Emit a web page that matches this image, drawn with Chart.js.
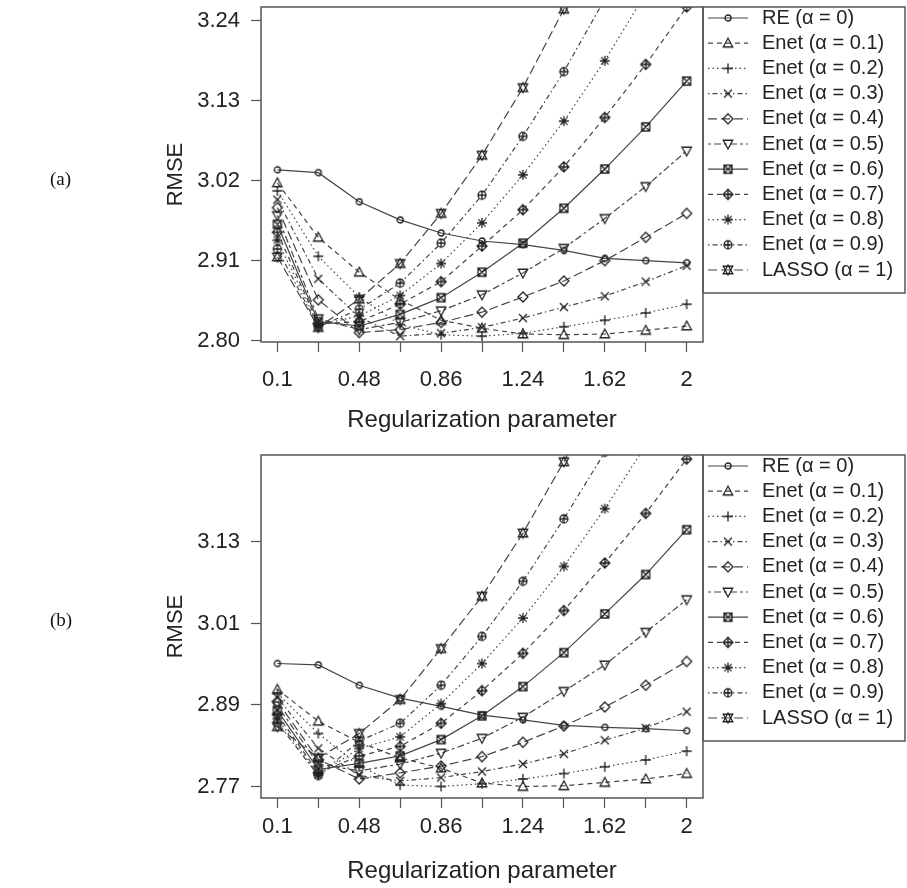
<!DOCTYPE html>
<html>
<head>
<meta charset="utf-8">
<script src="https://cdn.jsdelivr.net/npm/chart.js@4.4.1/dist/chart.umd.min.js"></script>
<style>
  html, body { margin: 0; padding: 0; background: #fff; }
  #wrap { position: relative; width: 907px; height: 888px; overflow: hidden; }
  #wrap canvas { position: absolute; left: 0; }
  .tag { position: absolute; font-family: "Liberation Serif", "DejaVu Serif", serif; font-size: 19px; color: #111; }
</style>
</head>
<body>
<div id="wrap">
  <canvas id="chartA" width="907" height="444" style="top:0px"></canvas>
  <canvas id="chartB" width="907" height="444" style="top:444px"></canvas>
  <div class="tag" style="left:50px; top:168px">(a)</div>
  <div class="tag" style="left:50px; top:609px">(b)</div>
</div>
<script>
// x: regularization parameter
const lambdas = [0.1, 0.29, 0.48, 0.67, 0.86, 1.05, 1.24, 1.43, 1.62, 1.81, 2];
const xTickLabels = ['0.1', '', '0.48', '', '0.86', '', '1.24', '', '1.62', '', '2'];
const seriesNames = ['RE (α = 0)', 'Enet (α = 0.1)', 'Enet (α = 0.2)', 'Enet (α = 0.3)', 'Enet (α = 0.4)',
  'Enet (α = 0.5)', 'Enet (α = 0.6)', 'Enet (α = 0.7)', 'Enet (α = 0.8)', 'Enet (α = 0.9)', 'LASSO (α = 1)'];

const yTicksA = [2.80, 2.91, 3.02, 3.13, 3.24];
const yTicksB = [2.77, 2.89, 3.01, 3.13];

// panel (a) RMSE
const reA    = [3.035, 3.031, 2.991, 2.966, 2.948, 2.937, 2.932, 2.924, 2.913, 2.910, 2.907];
const enet1A = [3.017, 2.942, 2.894, 2.856, 2.828, 2.817, 2.809, 2.808, 2.809, 2.814, 2.820];
const enet2A = [3.006, 2.916, 2.860, 2.822, 2.808, 2.806, 2.810, 2.819, 2.828, 2.838, 2.850];
const enet3A = [2.994, 2.885, 2.832, 2.806, 2.810, 2.818, 2.831, 2.846, 2.861, 2.881, 2.903];
const enet4A = [2.983, 2.856, 2.811, 2.815, 2.825, 2.839, 2.860, 2.882, 2.910, 2.942, 2.975];
const enet5A = [2.972, 2.830, 2.815, 2.825, 2.841, 2.863, 2.893, 2.927, 2.968, 3.012, 3.061];
const enet6A = [2.960, 2.826, 2.820, 2.836, 2.859, 2.894, 2.934, 2.982, 3.036, 3.094, 3.157];
const enet7A = [2.949, 2.823, 2.826, 2.850, 2.881, 2.930, 2.980, 3.039, 3.107, 3.180, 3.259];
const enet8A = [2.938, 2.821, 2.834, 2.862, 2.906, 2.962, 3.028, 3.102, 3.185, 3.278, 3.375];
const enet9A = [2.926, 2.819, 2.843, 2.879, 2.934, 3.000, 3.081, 3.170, 3.270, 3.380, 3.500];
const lassoA = [2.915, 2.818, 2.857, 2.906, 2.975, 3.055, 3.148, 3.256, 3.380, 3.510, 3.650];

// panel (b) RMSE
const reB    = [2.951, 2.949, 2.919, 2.900, 2.888, 2.875, 2.868, 2.860, 2.857, 2.855, 2.852];
const enet1B = [2.913, 2.866, 2.835, 2.812, 2.797, 2.775, 2.770, 2.771, 2.776, 2.781, 2.789];
const enet2B = [2.907, 2.848, 2.800, 2.772, 2.770, 2.774, 2.781, 2.789, 2.799, 2.809, 2.822];
const enet3B = [2.901, 2.826, 2.786, 2.778, 2.783, 2.792, 2.803, 2.818, 2.838, 2.856, 2.880];
const enet4B = [2.895, 2.810, 2.781, 2.790, 2.800, 2.814, 2.835, 2.859, 2.887, 2.919, 2.954];
const enet5B = [2.889, 2.803, 2.793, 2.803, 2.819, 2.841, 2.872, 2.910, 2.949, 2.997, 3.045];
const enet6B = [2.882, 2.795, 2.804, 2.815, 2.839, 2.874, 2.917, 2.967, 3.024, 3.082, 3.148];
const enet7B = [2.876, 2.790, 2.815, 2.829, 2.863, 2.911, 2.966, 3.029, 3.099, 3.172, 3.252];
const enet8B = [2.870, 2.787, 2.826, 2.843, 2.892, 2.951, 3.018, 3.094, 3.179, 3.272, 3.370];
const enet9B = [2.864, 2.786, 2.837, 2.863, 2.919, 2.991, 3.072, 3.164, 3.262, 3.365, 3.475];
const lassoB = [2.858, 2.812, 2.848, 2.898, 2.973, 3.050, 3.143, 3.248, 3.365, 3.490, 3.625];

const seriesA = [reA, enet1A, enet2A, enet3A, enet4A, enet5A, enet6A, enet7A, enet8A, enet9A, lassoA];
const seriesB = [reB, enet1B, enet2B, enet3B, enet4B, enet5B, enet6B, enet7B, enet8B, enet9B, lassoB];

// R style line types (lty 1..6 recycled)
const lineDash = [[], [5, 4], [1.5, 3], [1.5, 3, 5, 3], [9, 4], [3, 3, 7, 3],
                  [], [5, 4], [1.5, 3], [1.5, 3, 5, 3], [9, 4]];
const markerKinds = ['circle', 'tri', 'plus', 'cross', 'diamond', 'tridown', 'sqx', 'dplus', 'aster', 'cplus', 'david'];

const FONT = '"Liberation Sans", Arial, sans-serif';

// small canvases used as point styles (pch 1..11)
const makeMarker = (kind) => {
  const s = 14, m = 7;
  const c = document.createElement('canvas');
  c.width = s; c.height = s;
  const g = c.getContext('2d');
  g.strokeStyle = '#222';
  g.lineWidth = 1.3;
  g.beginPath();
  const tri = (r, down) => {
    const d = down ? -1 : 1;
    g.moveTo(m, m - d * r);
    g.lineTo(m + r * 0.95, m + d * r * 0.75);
    g.lineTo(m - r * 0.95, m + d * r * 0.75);
    g.closePath();
  };
  const plus = (r) => { g.moveTo(m - r, m); g.lineTo(m + r, m); g.moveTo(m, m - r); g.lineTo(m, m + r); };
  const cross = (r) => { g.moveTo(m - r, m - r); g.lineTo(m + r, m + r); g.moveTo(m + r, m - r); g.lineTo(m - r, m + r); };
  const diamond = (r) => { g.moveTo(m, m - r); g.lineTo(m + r, m); g.lineTo(m, m + r); g.lineTo(m - r, m); g.closePath(); };
  switch (kind) {
    case 'circle': g.arc(m, m, 3, 0, Math.PI * 2); break;
    case 'tri': tri(5, false); break;
    case 'plus': plus(5); break;
    case 'cross': cross(4); break;
    case 'diamond': diamond(5); break;
    case 'tridown': tri(5, true); break;
    case 'sqx': g.rect(m - 4, m - 4, 8, 8); cross(4); break;
    case 'dplus': diamond(5); plus(5); break;
    case 'aster': plus(5); cross(3.6); break;
    case 'cplus': g.arc(m, m, 4, 0, Math.PI * 2); g.moveTo(m - 4, m); g.lineTo(m + 4, m); g.moveTo(m, m - 4); g.lineTo(m, m + 4); break;
    case 'david': tri(5, false); tri(5, true); break;
  }
  g.stroke();
  return c;
};
const markers = markerKinds.map(makeMarker);

// frame box + legend box (drawn like R's box() and legend())
const framePlugin = {
  id: 'frame',
  afterDraw(chart) {
    const {ctx, chartArea: a} = chart;
    ctx.save();
    ctx.strokeStyle = '#555';
    ctx.lineWidth = 1.5;
    ctx.strokeRect(a.left, a.top, a.right - a.left, a.bottom - a.top);
    const lx = a.right, ly = a.top;
    ctx.strokeRect(lx, ly, 202, 286);
    chart.data.datasets.forEach((ds, k) => {
      const y = ly + 11 + k * 25.2;
      ctx.strokeStyle = '#444';
      ctx.lineWidth = 1.2;
      ctx.setLineDash(ds.borderDash);
      ctx.beginPath();
      ctx.moveTo(lx + 5, y);
      ctx.lineTo(lx + 45, y);
      ctx.stroke();
      ctx.setLineDash([]);
      ctx.drawImage(ds.pointStyle, lx + 25 - 7, y - 7);
      ctx.fillStyle = '#222';
      ctx.font = '20px ' + FONT;
      ctx.textBaseline = 'middle';
      ctx.textAlign = 'left';
      ctx.fillText(ds.label, lx + 59, y);
    });
    ctx.restore();
  }
};

const makePanel = (id, series, yTicks, yMin, yMax, topPad, xHeight, xLabelPad, xTitlePad) => {
  const datasets = series.map((vals, k) => ({
    label: seriesNames[k],
    data: vals.map((v, i) => ({x: lambdas[i], y: v})),
    borderColor: '#444',
    borderWidth: 1.2,
    borderDash: lineDash[k],
    pointStyle: markers[k],
    pointRadius: 5,
    pointHoverRadius: 5,
    fill: false,
    tension: 0,
  }));
  return new Chart(document.getElementById(id), {
    type: 'line',
    data: {datasets: datasets},
    options: {
      responsive: false,
      animation: false,
      devicePixelRatio: 1,
      layout: {padding: {top: topPad, right: 204, left: 0, bottom: 0}},
      plugins: {legend: {display: false}, tooltip: {enabled: false}},
      scales: {
        x: {
          type: 'linear',
          min: 0.024,
          max: 2.076,
          afterBuildTicks: (s) => { s.ticks = lambdas.map(v => ({value: v})); },
          afterFit: (s) => { s.height = xHeight; s.paddingLeft = 0; s.paddingRight = 0; },
          ticks: {
            autoSkip: false, maxRotation: 0, minRotation: 0,
            padding: xLabelPad, color: '#222',
            font: {family: FONT, size: 22},
            callback: (v, i) => xTickLabels[i],
          },
          grid: {drawOnChartArea: false, drawTicks: true, tickLength: 10, tickColor: '#555', tickWidth: 1.2},
          border: {display: false},
          title: {
            display: true, text: 'Regularization parameter', color: '#222',
            font: {family: FONT, size: 24}, padding: {top: 0, bottom: xTitlePad},
          },
        },
        y: {
          type: 'linear',
          min: yMin,
          max: yMax,
          afterBuildTicks: (s) => { s.ticks = yTicks.map(v => ({value: v})); },
          afterFit: (s) => { s.width = 261; s.paddingTop = 0; s.paddingBottom = 0; },
          ticks: {
            padding: 11, color: '#222',
            font: {family: FONT, size: 22},
            callback: (v) => Number(v).toFixed(2),
          },
          grid: {drawOnChartArea: false, drawTicks: true, tickLength: 10, tickColor: '#555', tickWidth: 1.2},
          border: {display: false},
          title: {
            display: true, text: 'RMSE', color: '#222',
            font: {family: FONT, size: 22}, padding: {top: 163, bottom: 0},
          },
        },
      },
    },
    plugins: [framePlugin],
  });
};

makePanel('chartA', seriesA, yTicksA, 2.798, 3.259, 7, 102, 15, 9);
makePanel('chartB', seriesB, yTicksB, 2.753, 3.258, 11, 90, 6, 2);
</script>
</body>
</html>
